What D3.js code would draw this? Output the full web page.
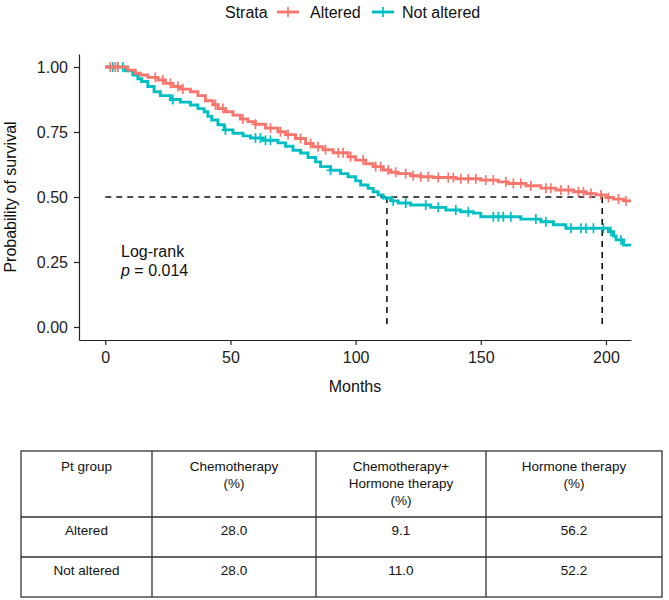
<!DOCTYPE html>
<html>
<head>
<meta charset="utf-8">
<script src="https://cdn.jsdelivr.net/npm/d3@7/dist/d3.min.js"></script>
<style>
  body { margin: 0; background: #fff; }
  svg { font-family: "Liberation Sans", Arial, Helvetica, sans-serif; }
</style>
</head>
<body>
<svg id="chart" width="669" height="600"></svg>
<script>
// ---------- DATA ----------
const seriesNames = ["Altered", "Not altered"];
const seriesColors = ["#F8766D", "#00BFC4"];

// Kaplan-Meier steps (time in months, survival probability)
const alteredTimes = [0, 9, 12, 14, 17, 21, 24, 27, 30, 34, 37, 40, 43, 45, 48, 51, 54, 57, 60, 64, 69, 72, 76, 80, 83, 87, 91, 97, 100, 104, 107, 111, 114, 117, 122, 126, 131, 140, 150, 157, 161, 168, 174, 180, 187, 192, 196, 200, 203, 207, 210];
const alteredSurv  = [1.0, 0.988, 0.976, 0.969, 0.96, 0.95, 0.937, 0.925, 0.915, 0.905, 0.89, 0.87, 0.855, 0.84, 0.828, 0.815, 0.80, 0.79, 0.78, 0.765, 0.751, 0.74, 0.725, 0.706, 0.693, 0.682, 0.67, 0.655, 0.642, 0.628, 0.617, 0.604, 0.595, 0.59, 0.582, 0.578, 0.575, 0.57, 0.565, 0.558, 0.552, 0.543, 0.534, 0.527, 0.52, 0.513, 0.508, 0.498, 0.492, 0.485, 0.485];
const alteredCensor = [2, 4, 5, 20, 23, 26, 29, 31, 44, 47, 55, 60, 66, 70, 73, 78, 82, 85, 88, 93, 95, 98, 103, 108, 110, 113, 116, 120, 123, 126, 129, 133, 137, 139, 142, 145, 148, 152, 155, 160, 163, 166, 170, 176, 178, 182, 185, 189, 191, 194, 198, 201, 205, 208];

const notAlteredTimes = [0, 8, 11, 13, 14.5, 17, 19.5, 22, 26, 30, 34, 37, 39.5, 41, 42.5, 45, 47.5, 51, 55, 58, 63, 69, 72, 75, 78, 81, 84, 86, 90, 94, 97, 100, 102, 105, 107, 109, 111, 114, 117, 122, 130, 136, 142, 147, 150, 166, 174, 179, 184, 201, 203, 204, 207, 210];
const notAlteredSurv  = [1.0, 0.985, 0.969, 0.955, 0.944, 0.925, 0.905, 0.89, 0.875, 0.865, 0.854, 0.84, 0.828, 0.81, 0.796, 0.778, 0.758, 0.745, 0.735, 0.727, 0.718, 0.708, 0.695, 0.68, 0.669, 0.652, 0.635, 0.617, 0.603, 0.59, 0.578, 0.562, 0.546, 0.533, 0.52, 0.508, 0.496, 0.485, 0.477, 0.469, 0.46, 0.45, 0.443, 0.438, 0.424, 0.415, 0.405, 0.393, 0.38, 0.367, 0.35, 0.335, 0.315, 0.315];
const notAlteredCensor = [3, 5, 7, 27, 48, 60, 62, 64, 66, 90, 115, 120, 128, 133, 140, 145, 155, 157, 159, 162, 172, 176, 186, 190, 192, 195, 199, 202, 206];

const medianTimes = [112.5, 198.5];
const xTicks = [0, 50, 100, 150, 200];
const yTicks = [0, 0.25, 0.5, 0.75, 1.0];

const tableHeader = [["Pt group"], ["Chemotherapy", "(%)"], ["Chemotherapy+", "Hormone therapy", "(%)"], ["Hormone therapy", "(%)"]];
const tableGroups = ["Altered", "Not altered"];
const chemo = ["28.0", "28.0"];
const chemoHormone = ["9.1", "11.0"];
const hormone = ["56.2", "52.2"];

// ---------- DRAW ----------
const svg = d3.select("#chart");
const x = d3.scaleLinear().domain([-10.5, 210]).range([79, 631]);
const y = d3.scaleLinear().domain([-0.05, 1.05]).range([340, 54]);

// axes
const xAxis = svg.append("g").attr("transform", `translate(0,${y(-0.05)})`)
  .call(d3.axisBottom(x).tickValues(xTicks).tickSize(5).tickSizeOuter(0).tickPadding(7));
const yAxis = svg.append("g").attr("transform", `translate(${x(-10.5)},0)`)
  .call(d3.axisLeft(y).tickValues(yTicks).tickFormat(d3.format(".2f")).tickSize(5).tickSizeOuter(0).tickPadding(6));
[xAxis, yAxis].forEach(a => {
  a.selectAll("path.domain").attr("stroke", "#222").attr("stroke-width", 1.2);
  a.selectAll(".tick line").attr("stroke", "#222").attr("stroke-width", 1.2);
  a.selectAll(".tick text").attr("fill", "#222").style("font-size", "16px")
    .style("font-family", "'Liberation Sans', Arial, sans-serif");
});

// axis titles
svg.append("text").attr("x", (x.range()[0] + x.range()[1]) / 2).attr("y", 392)
  .attr("text-anchor", "middle").style("font-size", "16px").attr("fill", "#111").text("Months");
svg.append("text").attr("transform", `translate(16,${y(0.5)}) rotate(-90)`)
  .attr("text-anchor", "middle").style("font-size", "16px").attr("fill", "#111").text("Probability of survival");

// median dashed lines
const dash = "6,5";
svg.append("line").attr("x1", x(0)).attr("x2", x(d3.max(medianTimes))).attr("y1", y(0.5)).attr("y2", y(0.5))
  .attr("stroke", "#111").attr("stroke-width", 1.6).attr("stroke-dasharray", dash);
medianTimes.forEach(m => {
  svg.append("line").attr("x1", x(m)).attr("x2", x(m)).attr("y1", y(0.5)).attr("y2", y(0))
    .attr("stroke", "#111").attr("stroke-width", 1.6).attr("stroke-dasharray", dash);
});

// curves
const series = [
  {times: alteredTimes, surv: alteredSurv, censor: alteredCensor},
  {times: notAlteredTimes, surv: notAlteredSurv, censor: notAlteredCensor}
];
const line = d3.line().x(d => x(d[0])).y(d => y(d[1])).curve(d3.curveStepAfter);
function survAt(s, t) {
  const i = d3.bisectRight(s.times, t) - 1;
  return s.surv[Math.max(0, i)];
}
[1, 0].forEach(k => {
  const s = series[k];
  const pts = s.times.map((t, i) => [t, s.surv[i]]);
  svg.append("path").datum(pts).attr("d", line).attr("fill", "none")
    .attr("stroke", seriesColors[k]).attr("stroke-width", 2.9).attr("stroke-linejoin", "miter");
  const g = svg.append("g");
  s.censor.forEach(t => {
    const cx = x(t), cy = y(survAt(s, t));
    g.append("line").attr("x1", cx).attr("x2", cx).attr("y1", cy - 5).attr("y2", cy + 5)
      .attr("stroke", seriesColors[k]).attr("stroke-width", 1.7);
    g.append("line").attr("x1", cx - 4).attr("x2", cx + 4).attr("y1", cy).attr("y2", cy)
      .attr("stroke", seriesColors[k]).attr("stroke-width", 1.7);
  });
});

// log-rank annotation
svg.append("text").attr("x", 121).attr("y", 257).style("font-size", "16px").attr("fill", "#111").text("Log-rank");
const pt = svg.append("text").attr("x", 121).attr("y", 276).style("font-size", "16px").attr("fill", "#111");
pt.append("tspan").style("font-style", "italic").text("p");
pt.append("tspan").text(" = 0.014");

// legend
const leg = svg.append("g");
leg.append("text").attr("x", 225).attr("y", 18).style("font-size", "16px").attr("fill", "#111").text("Strata");
const legX = [{k: 277, t: 310}, {k: 372, t: 402}];
seriesNames.forEach((n, i) => {
  const kx = legX[i].k;
  leg.append("line").attr("x1", kx).attr("x2", kx + 22).attr("y1", 12).attr("y2", 12)
    .attr("stroke", seriesColors[i]).attr("stroke-width", 2.9);
  leg.append("line").attr("x1", kx + 11).attr("x2", kx + 11).attr("y1", 7).attr("y2", 17)
    .attr("stroke", seriesColors[i]).attr("stroke-width", 1.7);
  leg.append("text").attr("x", legX[i].t).attr("y", 18).style("font-size", "16px").attr("fill", "#111").text(n);
});

// table
const colEdges = [21, 152, 316, 486, 662];
const rowEdges = [451, 517, 557, 597];
const tg = svg.append("g").style("font-size", "13.5px").attr("fill", "#111");
tg.append("rect").attr("x", colEdges[0]).attr("y", rowEdges[0])
  .attr("width", colEdges[4] - colEdges[0]).attr("height", rowEdges[3] - rowEdges[0])
  .attr("fill", "none").attr("stroke", "#333").attr("stroke-width", 1.3);
colEdges.slice(1, 4).forEach(cx => tg.append("line").attr("x1", cx).attr("x2", cx)
  .attr("y1", rowEdges[0]).attr("y2", rowEdges[3]).attr("stroke", "#333").attr("stroke-width", 1.3));
rowEdges.slice(1, 3).forEach(ry => tg.append("line").attr("x1", colEdges[0]).attr("x2", colEdges[4])
  .attr("y1", ry).attr("y2", ry).attr("stroke", "#333").attr("stroke-width", 1.3));
const colCenter = i => (colEdges[i] + colEdges[i + 1]) / 2;
tableHeader.forEach((lines, i) => {
  lines.forEach((l, j) => tg.append("text").attr("x", colCenter(i)).attr("y", rowEdges[0] + 20 + j * 17)
    .attr("text-anchor", "middle").text(l));
});
const rows = tableGroups.map((g, r) => [g, chemo[r], chemoHormone[r], hormone[r]]);
rows.forEach((row, r) => {
  row.forEach((v, i) => tg.append("text").attr("x", colCenter(i)).attr("y", rowEdges[r + 1] + 18)
    .attr("text-anchor", "middle").text(v));
});
</script>
</body>
</html>
